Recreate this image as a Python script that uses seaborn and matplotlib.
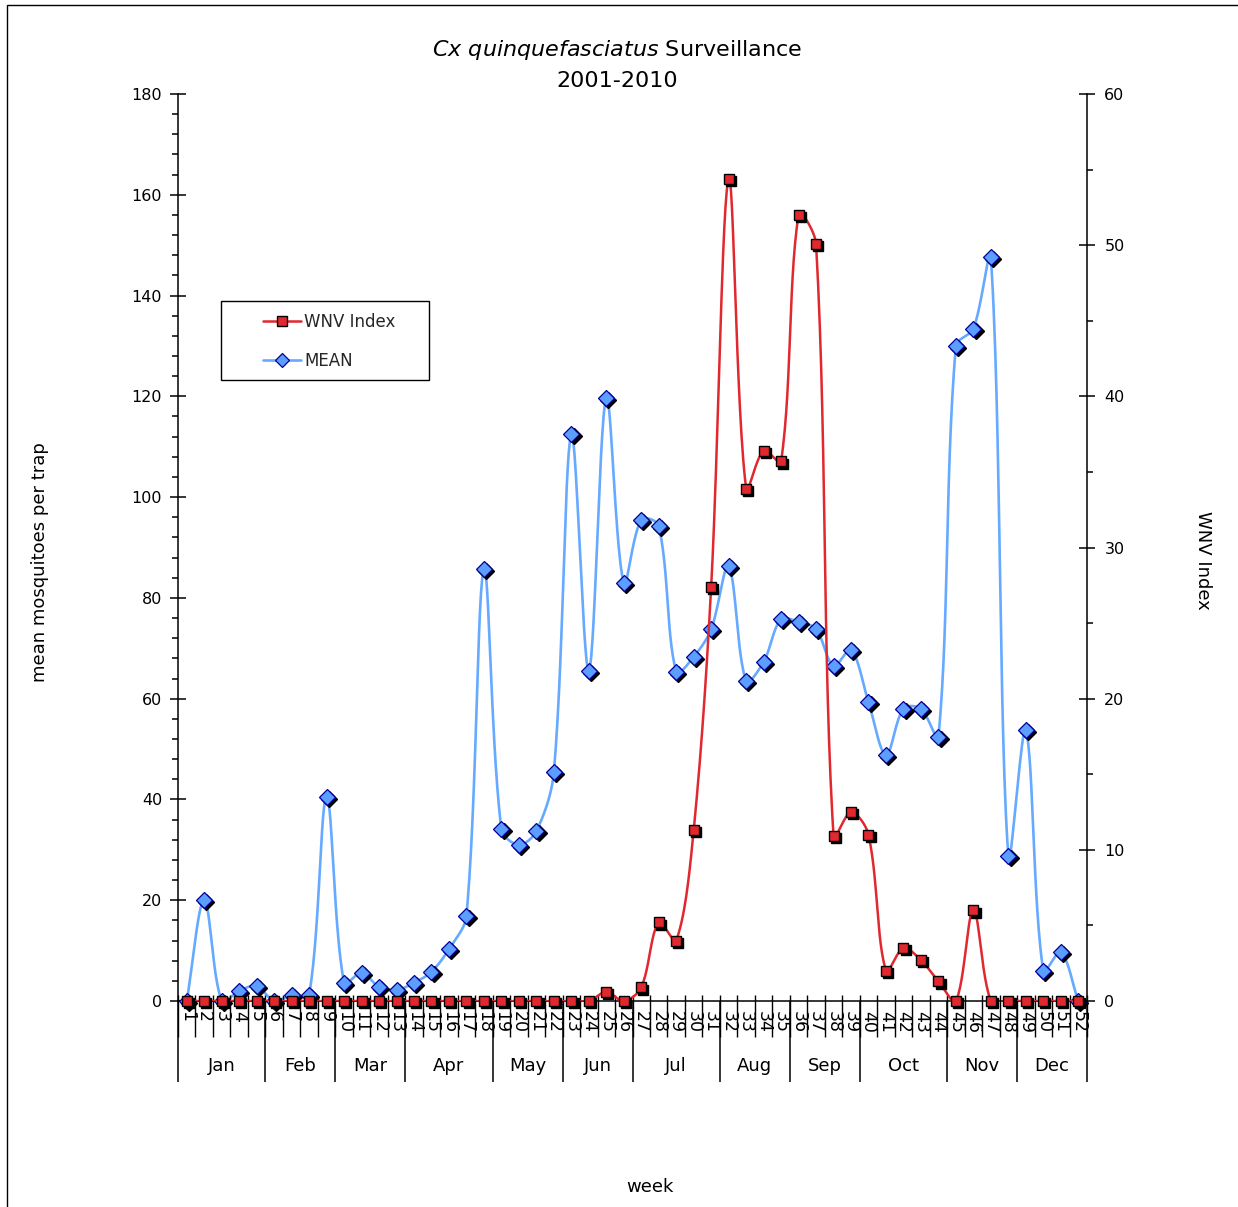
import numpy as np
import pandas as pd
import matplotlib
matplotlib.use("Agg")
import matplotlib.pyplot as plt
import matplotlib.transforms as mtransforms
from matplotlib.lines import Line2D
from matplotlib.patches import Rectangle
import seaborn as sns

# ---------------- data ----------------
weeks = list(range(1, 53))
week_labels = [str(w) for w in weeks]
mean_values = [0, 20, 0, 2, 3, 0, 1.2, 1.2, 40.5, 3.6,
               5.6, 2.8, 2.2, 3.6, 5.8, 10.3, 16.9, 85.7, 34.1, 31.0,
               33.7, 45.4, 112.5, 65.5, 119.7, 83.0, 95.5, 94.3, 65.3, 68.3,
               73.8, 86.3, 63.5, 67.3, 75.8, 75.2, 73.8, 66.5, 69.7, 59.3,
               48.8, 58.0, 58.0, 52.4, 130.0, 133.4, 147.6, 28.8, 53.8, 6.0,
               9.7, 0]
wnv_index = [0, 0, 0, 0, 0, 0, 0, 0, 0, 0,
             0, 0, 0, 0, 0, 0, 0, 0, 0, 0,
             0, 0, 0, 0, 0.6, 0, 0.9, 5.2, 4.0, 11.3,
             27.4, 54.4, 33.9, 36.4, 35.7, 52.0, 50.1, 10.9, 12.5, 11.0,
             2.0, 3.5, 2.7, 1.3, 0, 6.0, 0, 0, 0, 0,
             0, 0]
months = ["Jan", "Feb", "Mar", "Apr", "May", "Jun",
          "Jul", "Aug", "Sep", "Oct", "Nov", "Dec"]
weeks_per_month = [5, 4, 4, 5, 4, 4, 5, 4, 4, 5, 4, 4]

RED = "#E0282E"
BLUE = "#66AAFF"
BLUE_FILL = "#5C9EFF"
BLUE_EDGE = "#000099"

W, H = 1238, 1207
left, right, top, bottom = 178, 1087, 94, 1001
PX_PER_WEEK = (right - left) / 52.0


def smooth(x, y, px_per_y, n=30):
    """Excel-like smoothed line: Bezier segments with chord-length scaled
    tangents, computed in screen space and mapped back to data units."""
    X = np.asarray(x, float) * PX_PER_WEEK
    Y = np.asarray(y, float) * px_per_y
    P = np.column_stack([X, Y])
    P = np.vstack([P[0], P, P[-1]])
    t = np.linspace(0, 1, n)[:, None]
    out = []
    for i in range(1, len(P) - 2):
        p0, p1, p2, p3 = P[i - 1], P[i], P[i + 1], P[i + 2]
        d01 = np.linalg.norm(p1 - p0)
        d12 = np.linalg.norm(p2 - p1)
        d23 = np.linalg.norm(p3 - p2)
        f1 = d12 / (d01 + d12) / 3.0 if (d01 + d12) > 0 else 0
        f2 = d12 / (d12 + d23) / 3.0 if (d12 + d23) > 0 else 0
        c1 = p1 + (p2 - p0) * f1
        c2 = p2 - (p3 - p1) * f2
        pts = ((1 - t) ** 3) * p1 + 3 * ((1 - t) ** 2) * t * c1 + 3 * (1 - t) * t ** 2 * c2 + t ** 3 * p2
        if i > 1:
            pts = pts[1:]
        out.append(pts)
    out = np.vstack(out)
    return out[:, 0] / PX_PER_WEEK, out[:, 1] / px_per_y


sns.set_theme(style="white")
plt.rcParams["font.family"] = ["DejaVu Sans"]
plt.rcParams["mathtext.fontset"] = "dejavusans"

fig = plt.figure(figsize=(W / 100, H / 100), dpi=100)
fig.patch.set_facecolor("white")

ax = fig.add_axes([left / W, 1 - bottom / H, (right - left) / W, (bottom - top) / H])
ax2 = ax.twinx()

df_mean = pd.DataFrame({"week": weeks, "value": mean_values})
df_wnv = pd.DataFrame({"week": weeks, "value": wnv_index})

px_left = (bottom - top) / 180.0
px_right = (bottom - top) / 60.0
sx, sy = smooth(df_mean["week"], df_mean["value"], px_left)
sns.lineplot(x=sx, y=sy, sort=False, estimator=None, color=BLUE, lw=1.9, ax=ax, zorder=2)
rx, ry = smooth(df_wnv["week"], df_wnv["value"], px_right)
sns.lineplot(x=rx, y=ry, sort=False, estimator=None, color=RED, lw=1.8, ax=ax2, zorder=2)

shadow = mtransforms.ScaledTranslation(2.2 / 100, -2.2 / 100, fig.dpi_scale_trans)
ax.plot(df_mean["week"], df_mean["value"], ls="none", marker="D", ms=8.0,
        mfc="black", mec="black", transform=ax.transData + shadow, zorder=3, clip_on=False)
ax.plot(df_mean["week"], df_mean["value"], ls="none", marker="D", ms=8.0,
        mfc=BLUE_FILL, mec=BLUE_EDGE, mew=0.9, zorder=4, clip_on=False)
ax2.plot(df_wnv["week"], df_wnv["value"], ls="none", marker="s", ms=7.2,
         mfc="black", mec="black", transform=ax2.transData + shadow, zorder=3, clip_on=False)
ax2.plot(df_wnv["week"], df_wnv["value"], ls="none", marker="s", ms=7.2,
         mfc=RED, mec="black", mew=1.0, zorder=4, clip_on=False)

# ---------------- axes ----------------
ax.set_xlim(0.5, 52.5)
ax.set_ylim(0, 180)
ax2.set_ylim(0, 60)
ax.set_zorder(1)
ax2.set_zorder(2)
ax.patch.set_visible(False)
ax2.patch.set_visible(False)

for sp in ["top", "right"]:
    ax.spines[sp].set_visible(False)
for sp in ["top", "left", "bottom"]:
    ax2.spines[sp].set_visible(False)
for sp in ["left", "bottom"]:
    ax.spines[sp].set_color("black")
    ax.spines[sp].set_linewidth(1.1)
ax2.spines["right"].set_color("black")
ax2.spines["right"].set_linewidth(1.1)

ax.set_yticks(np.arange(0, 181, 20))
ax.set_yticks(np.arange(0, 181, 4), minor=True)
ax.tick_params(axis="y", which="major", direction="inout", length=11, width=1.1,
               labelsize=11.5, pad=6, colors="black", left=True)
ax.tick_params(axis="y", which="minor", direction="out", length=4.5, width=1.1,
               colors="black", left=True)
ax2.set_yticks(np.arange(0, 61, 10))
ax2.set_yticks(np.arange(0, 61, 5), minor=True)
ax2.tick_params(axis="y", which="major", direction="inout", length=11, width=1.1,
                labelsize=11.5, pad=7, colors="black", right=True)
ax2.tick_params(axis="y", which="minor", direction="out", length=4.5, width=1.1,
                colors="black", right=True)

ax.set_xticks(weeks)
ax.set_xticklabels(week_labels, rotation=-90, fontsize=12.5, va="top", ha="center")
ax.tick_params(axis="x", which="major", length=0, pad=7, bottom=True,
               labelbottom=True, colors="black")
ax.set_xlabel("")
ax.set_ylabel("")
ax2.set_ylabel("")
ax2.tick_params(axis="x", which="both", bottom=False, top=False,
                labelbottom=False, labeltop=False)

# week boundary ticks
bounds = np.arange(0.5, 53, 1.0)
ax.vlines(bounds, -36 / 907, 6 / 907, color="black", lw=1.0,
          transform=ax.get_xaxis_transform(), clip_on=False)
# month separators and labels
edges = np.concatenate([[0], np.cumsum(weeks_per_month)]) + 0.5
ax.vlines(edges, -81 / 907, 0, color="black", lw=1.1,
          transform=ax.get_xaxis_transform(), clip_on=False)
for m, a, b in zip(months, edges[:-1], edges[1:]):
    ax.text((a + b) / 2, -65 / 907, m, transform=ax.get_xaxis_transform(),
            ha="center", va="center", fontsize=13, color="black")

# ---------------- texts ----------------
fig.text(617 / W, 1 - 50 / H, r"$\mathit{Cx\ quinquefasciatus}$ Surveillance",
         ha="center", va="center", fontsize=16, color="black")
fig.text(617 / W, 1 - 81 / H, "2001-2010", ha="center", va="center",
         fontsize=16, color="black")
fig.text(40 / W, 1 - 562 / H, "mean mosquitoes per trap", rotation=90,
         ha="center", va="center", fontsize=13, color="black")
fig.text(1203 / W, 1 - 560 / H, "WNV Index", rotation=-90,
         ha="center", va="center", fontsize=13, color="black")
fig.text(650 / W, 1 - 1187 / H, "week", ha="center", va="center",
         fontsize=13, color="black")

# outer chart frame
fig.patches.append(Rectangle((7 / W, -0.05), 1.2, 1 - 5 / H + 0.05,
                             transform=fig.transFigure, fill=False,
                             edgecolor="black", lw=1.0))

# ---------------- legend ----------------
lx0, ly0, lx1, ly1 = 221, 301, 429, 380
fig.patches.append(Rectangle((lx0 / W, 1 - ly1 / H), (lx1 - lx0) / W, (ly1 - ly0) / H,
                             transform=fig.transFigure, fill=True, facecolor="white",
                             edgecolor="black", lw=1.0, zorder=5))
handles = [
    Line2D([0], [0], color=RED, lw=1.8, marker="s", ms=7.2, mfc=RED, mec="black", mew=1.0),
    Line2D([0], [0], color=BLUE, lw=1.9, marker="D", ms=7.0, mfc=BLUE_FILL, mec=BLUE_EDGE, mew=0.9),
]
leg = fig.legend(handles, ["WNV Index", "MEAN"], loc="upper left",
                 bbox_to_anchor=(251 / W, 1 - 301 / H), frameon=False,
                 fontsize=12, handlelength=2.3, handletextpad=0.2,
                 labelspacing=1.25, borderpad=0.2)
leg.set_zorder(6)

fig.savefig("out.png", dpi=100, facecolor="white")
